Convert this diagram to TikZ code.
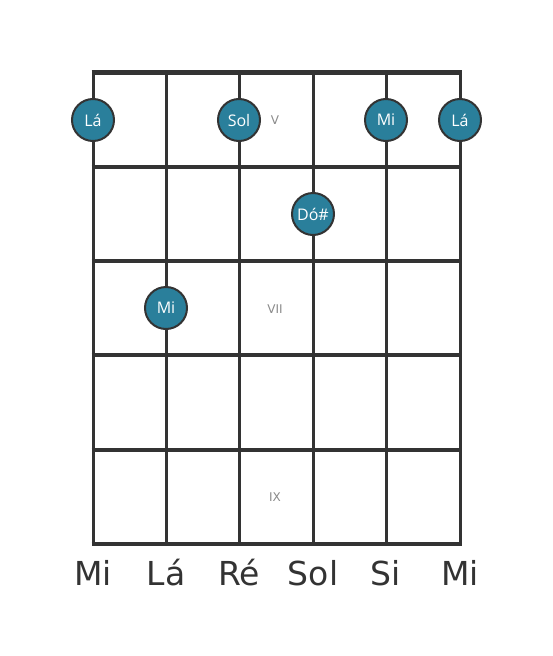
\documentclass[tikz,border=0pt]{standalone}
\usepackage{fontspec}
\setmainfont{DejaVu Sans}
\newfontfamily\dotfont{Open Sans}
\definecolor{gridgray}{HTML}{333333}
\definecolor{dotblue}{HTML}{2A7F9B}
\definecolor{fretnum}{HTML}{8A8A8A}
\tikzset{
    note/.style={circle, draw=gridgray, line width=2pt, fill=dotblue, minimum size=42pt, inner sep=0pt, text=white, font=\dotfont\fontsize{16}{16}\selectfont},
    fretlabel/.style={text=fretnum, font=\fontsize{12}{12}\selectfont},
    stringname/.style={text=gridgray, font=\fontsize{33}{33}\selectfont, anchor=base}
}
\begin{document}
\begin{tikzpicture}[x=1pt, y=1pt]
    \useasboundingbox (0,0) rectangle (553,-656);

    % String ends (top and bottom)
    \foreach \i/\x in {1/93, 2/166, 3/239, 4/313, 5/386, 6/460} {
        \coordinate (t\i) at (\x, -72);
        \coordinate (b\i) at (\x, -544);
    }
    % Fret ends (left and right)
    \foreach \j/\y in {0/72, 1/167, 2/261, 3/355, 4/450, 5/544} {
        \coordinate (l\j) at (91.5, -\y);
        \coordinate (r\j) at (461.5, -\y);
    }

    % Strings
    \foreach \i in {1,...,6}
        \draw[gridgray, line width=3pt] (t\i) -- (b\i);

    % Frets
    \draw[gridgray, line width=5pt] (l0) -- (r0);
    \foreach \j in {1,...,5}
        \draw[gridgray, line width=4pt] (l\j) -- (r\j);

    % Fret numbers
    \node[fretlabel] (fV) at (275, -120) {V};
    \node[fretlabel] (fVII) at (275, -309) {VII};
    \node[fretlabel] (fIX) at (275, -497) {IX};

    % Notes of the chord
    \node[note] (n1) at (93, -120) {Lá};
    \node[note] (n3) at (239, -120) {Sol};
    \node[note] (n5) at (386, -120) {Mi};
    \node[note] (n6) at (460, -120) {Lá};
    \node[note] (n4) at (313, -214) {Dó\#};
    \node[note] (n2) at (166, -308) {Mi};

    % Open string names
    \node[stringname] (m1) at (93, -585) {Mi};
    \node[stringname] (m2) at (166, -585) {Lá};
    \node[stringname] (m3) at (239, -585) {Ré};
    \node[stringname] (m4) at (313, -585) {Sol};
    \node[stringname] (m5) at (386, -585) {Si};
    \node[stringname] (m6) at (460, -585) {Mi};
\end{tikzpicture}
\end{document}
